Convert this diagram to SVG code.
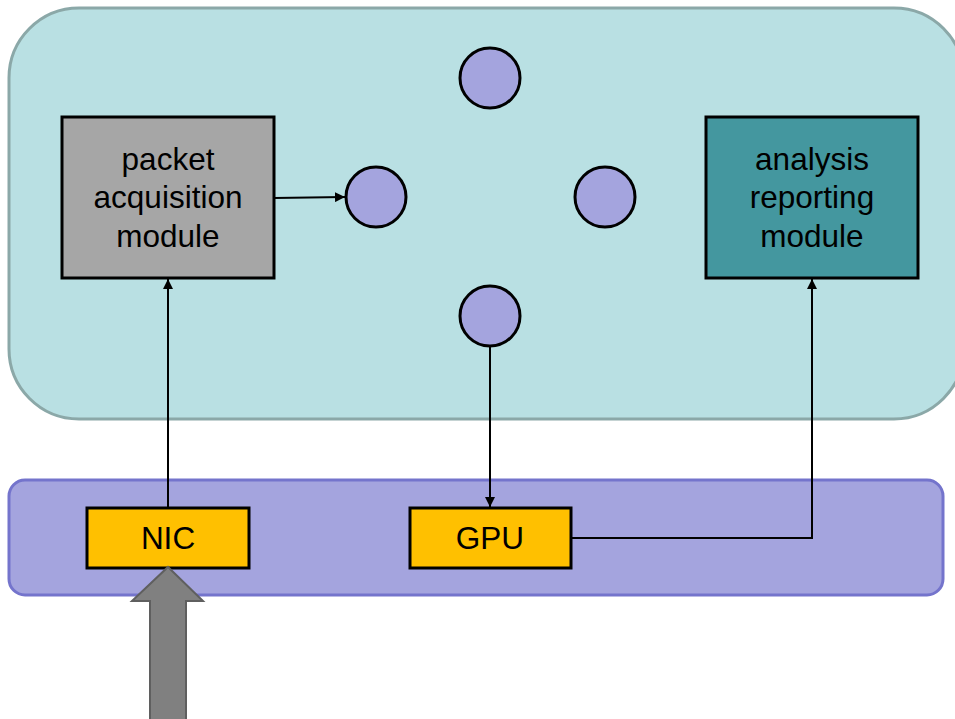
<svg xmlns="http://www.w3.org/2000/svg" width="955" height="719" viewBox="0 0 955 719">
  <style>
    .lbl { font-family: "Liberation Sans", Arial, sans-serif; font-size: 31.5px; fill: #000; text-anchor: middle; }
    .box { stroke: #000; stroke-width: 3; }
    .slot { fill: #a4a4de; stroke: #000; stroke-width: 3; }
    .hw { fill: #ffc000; stroke: #000; stroke-width: 3; }
    .edge { fill: none; stroke: #000; stroke-width: 2; marker-end: url(#head); }
  </style>
  <defs>
    <marker id="head" viewBox="0 0 10 10" refX="10" refY="5" markerWidth="5" markerHeight="5" orient="auto" markerUnits="strokeWidth">
      <path d="M0,0 L10,5 L0,10 z" fill="#000"/>
    </marker>
  </defs>

  <rect width="955" height="719" fill="#fff"/>

  <!-- host software area -->
  <g id="host">
    <rect x="9" y="8" width="955" height="411" rx="70" ry="70" fill="#b9e0e3" stroke="#8ba8a8" stroke-width="3"/>
  </g>

  <!-- hardware bus -->
  <g id="hardware">
    <rect x="9" y="480" width="934" height="115" rx="16" ry="16" fill="#a4a4de" stroke="#7474cc" stroke-width="3"/>
  </g>

  <g id="acquisition">
    <rect class="box" x="62" y="117" width="212" height="161" fill="#a6a6a6"/>
    <text class="lbl" x="168" y="170">packet</text>
    <text class="lbl" x="168" y="208">acquisition</text>
    <text class="lbl" x="168" y="247">module</text>
  </g>

  <g id="reporting">
    <rect class="box" x="706" y="117" width="212" height="161" fill="#44979f"/>
    <text class="lbl" x="812" y="170">analysis</text>
    <text class="lbl" x="812" y="208">reporting</text>
    <text class="lbl" x="812" y="247">module</text>
  </g>

  <g id="buffer-top"><circle class="slot" cx="490" cy="78" r="30"/></g>
  <g id="buffer-left"><circle class="slot" cx="376" cy="197" r="30"/></g>
  <g id="buffer-right"><circle class="slot" cx="605" cy="197" r="30"/></g>
  <g id="buffer-bottom"><circle class="slot" cx="490" cy="316" r="30"/></g>

  <g id="nic">
    <rect class="hw" x="87" y="508" width="162" height="60"/>
    <text class="lbl" x="168" y="549">NIC</text>
  </g>

  <g id="gpu">
    <rect class="hw" x="410" y="508" width="161" height="60"/>
    <text class="lbl" x="490" y="549">GPU</text>
  </g>

  <!-- incoming traffic -->
  <g id="ingress">
    <path d="M168,567 L203,601 L186,601 L186,725 L150,725 L150,601 L132,601 Z" fill="#808080" stroke="#5f5f5f" stroke-width="2"/>
  </g>

  <g id="connectors">
    <path class="edge" d="M274,198 L345,197"/>
    <path class="edge" d="M168,507 L168,279"/>
    <path class="edge" d="M490,347 L490,507"/>
    <path class="edge" d="M572,538 L812,538 L812,279"/>
  </g>
</svg>
